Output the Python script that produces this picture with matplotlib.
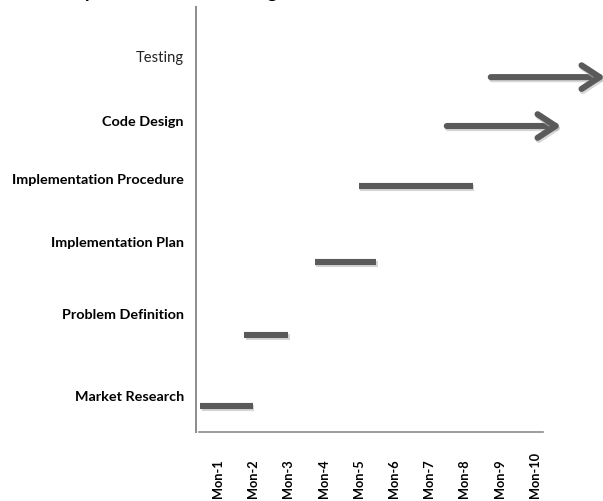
import matplotlib
matplotlib.use("Agg")
import matplotlib.pyplot as plt
import matplotlib.patheffects as pe
from matplotlib.transforms import blended_transform_factory

# ---- data ----
tasks = ["Market Research", "Problem Definition", "Implementation Plan",
         "Implementation Procedure", "Code Design", "Testing"]
starts = [0.5, 1.75, 3.75, 5.0, 7.5, 8.75]
ends = [2.0, 3.0, 5.5, 8.25, 10.75, 12.0]
ongoing = [False, False, False, False, True, True]
bar_rows = [0.61, 2.28, 4.0, 5.79, 7.2, 8.35]
label_rows = [0.85, 2.78, 4.47, 5.95, 7.32, 8.82]
label_bold = [True, True, True, True, True, False]
months = [1, 2, 3, 4, 5, 6, 7, 8, 9, 10]
month_labels = ["Mon-%d" % m for m in months]
title = "Activity Chart for Scheduling"

W, H = 603, 502
fig = plt.figure(figsize=(W / 100, H / 100), dpi=100)
ax = fig.add_axes([196 / W, 1 - 433 / H, (543 - 196) / W, (433 - 8) / H])

ax.set_xlim(1 - 22 / 35.2, 1 + 325 / 35.2)
ax.set_ylim(0, 10)

col = "#5a5a5a"
shadow = [pe.SimpleLineShadow(offset=(0.8, -1.5), shadow_color="#bbbbbb", alpha=0.6),
          pe.Normal()]
for s, e, y, arr in zip(starts, ends, bar_rows, ongoing):
    if arr:
        ax.annotate("", xy=(e, y), xytext=(s, y),
                    arrowprops=dict(arrowstyle="->,head_length=1.3,head_width=0.85",
                                    lw=4.4, color=col, shrinkA=0, shrinkB=0,
                                    capstyle="round", joinstyle="round",
                                    path_effects=shadow),
                    annotation_clip=False)
    else:
        ax.plot([s, e], [y, y], color=col, lw=4.4, solid_capstyle="butt",
                clip_on=False, path_effects=shadow)

# y labels
ax.set_yticks([])
trans = blended_transform_factory(fig.transFigure, ax.transData)
for name, y, b in zip(tasks, label_rows, label_bold):
    ax.text(184 / W, y, name, transform=trans, ha="right", va="center",
            fontsize=10.4 if b else 10.6, fontweight="bold" if b else "normal",
            family=["Lato", "DejaVu Sans"],
            color="black" if b else "#222222")

# x ticks
ax.set_xticks(months)
ax.set_xticklabels(month_labels, rotation=90, va="bottom", ha="center",
                   fontsize=9.2, fontweight="bold",
                   family=["Lato", "DejaVu Sans"])
ax.tick_params(axis="x", length=0, pad=65 * 72 / 100)

for side in ["top", "right"]:
    ax.spines[side].set_visible(False)
ax.spines["left"].set_color("#8c8c8c")
ax.spines["left"].set_linewidth(1.4)
ax.spines["bottom"].set_color("#8c8c8c")
ax.spines["bottom"].set_linewidth(1.2)
ax.spines["bottom"].set_bounds(1 - 19 / 35.2, 1 + 325 / 35.2)

# partly visible title at top edge
fig.text(26 / W, 1.0 + 2 / H, title, ha="left", va="baseline",
         fontsize=14, fontweight="bold", family=["Lato", "DejaVu Sans"])

fig.savefig("out.png", dpi=100)
